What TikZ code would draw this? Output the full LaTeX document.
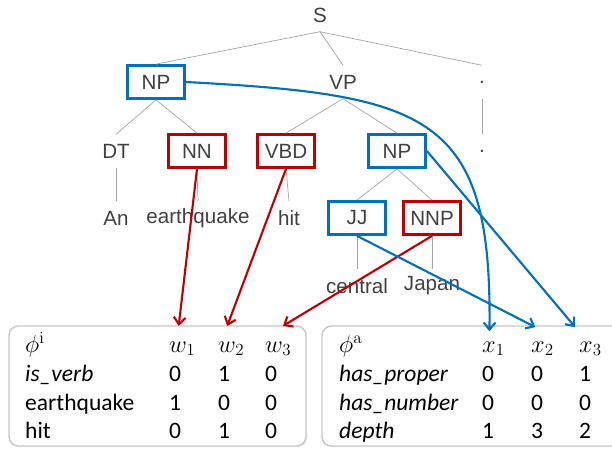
\documentclass[tikz,border=0pt]{standalone}
\usepackage[no-math]{fontspec}
\setmainfont{Carlito}
\newfontfamily\treefont{Liberation Sans}
\usetikzlibrary{arrows.meta,shadows}

\definecolor{tagred}{RGB}{192,0,0}
\definecolor{tagblue}{RGB}{0,112,192}
\definecolor{treegray}{RGB}{64,64,64}
\definecolor{edgegray}{RGB}{165,165,165}
\definecolor{panelgray}{RGB}{200,200,200}

\tikzset{
    tag/.style={minimum width=48.5pt, minimum height=28pt, inner sep=0pt,
        font=\treefont\fontsize{17.5}{20}\selectfont, text=treegray},
    redtag/.style={tag, draw=tagred, line width=2.4pt, fill=white,
        drop shadow={opacity=0.25, shadow xshift=1.2pt, shadow yshift=-1.2pt}},
    bluetag/.style={tag, draw=tagblue, line width=2.4pt, fill=white,
        drop shadow={opacity=0.25, shadow xshift=1.2pt, shadow yshift=-1.2pt}},
    branch/.style={draw=edgegray, line width=0.6pt},
    cell/.style={anchor=base west, inner sep=0pt, font=\fontsize{20}{24}\selectfont},
    panel/.style={draw=panelgray, line width=1.2pt, rounded corners=8pt, fill=white,
        drop shadow={opacity=0.15, shadow xshift=1pt, shadow yshift=-1pt}},
    redlink/.style={draw=tagred, line width=1.8pt, -{Straight Barb[length=6pt,width=10pt]}},
    bluelink/.style={draw=tagblue, line width=1.8pt, -{Straight Barb[length=6pt,width=10pt]}}
}

\begin{document}
\begin{tikzpicture}[x=0.85pt, y=-0.85pt]

    % Fix the frame of the picture
    \useasboundingbox (0,0) rectangle (612,448);

    % Parse tree: labels row by row
    \node[tag] (S) at (320,15) {S};

    \node[bluetag] (NPa) at (156,82) {NP};
    \node[tag] (VP) at (343,82) {VP};
    \node[tag] (dota) at (482,82) {.};

    \node[tag] (DT) at (116,151) {DT};
    \node[redtag] (NN) at (197,151) {NN};
    \node[redtag] (VBD) at (286,151) {VBD};
    \node[bluetag] (NPb) at (397,151) {NP};
    \node[tag] (dotb) at (482,151) {.};

    \node[tag] (An) at (116,218) {An};
    \node[tag] (earthquake) at (198,218) {earthquake};
    \node[tag] (hit) at (289,218) {hit};
    \node[bluetag] (JJ) at (357,218) {JJ};
    \node[redtag] (NNP) at (432,218) {NNP};

    \node[tag] (central) at (357,286) {central};
    \node[tag] (Japan) at (432,286) {Japan};

    % Tree branches
    \draw[branch] (S.south) -- (NPa.north);
    \draw[branch] (S.south) -- (VP.north);
    \draw[branch] (S.south) -- (dota.north);
    \draw[branch] (NPa.south) -- (DT.north);
    \draw[branch] (NPa.south) -- (NN.north);
    \draw[branch] (VP.south) -- (VBD.north);
    \draw[branch] (VP.south) -- (NPb.north);
    \draw[branch] (dota.south) -- (dotb.north);
    \draw[branch] (DT.south) -- (An.north);
    \draw[branch] (NN.south) -- (earthquake.north);
    \draw[branch] (VBD.south) -- (hit.north);
    \draw[branch] (NPb.south) -- (JJ.north);
    \draw[branch] (NPb.south) -- (NNP.north);
    \draw[branch] (JJ.south) -- (central.north);
    \draw[branch] (NNP.south) -- (Japan.north);

    % Feature panels
    \draw[panel] (9,326) rectangle (306,446);
    \draw[panel] (322,326) rectangle (630,446);

    % Left panel: lexical features
    \node[cell] (phii) at (25,352) {$\phi^{\mathrm{i}}$};
    \node[cell] (wa) at (169,352) {$w_1$};
    \node[cell] (wb) at (218,352) {$w_2$};
    \node[cell] (wc) at (265,352) {$w_3$};

    \node[cell] at (25,381) {\textit{is\_verb}};
    \node[cell] at (169,381) {0};
    \node[cell] at (218,381) {1};
    \node[cell] at (265,381) {0};

    \node[cell] at (25,410) {earthquake};
    \node[cell] at (169,410) {1};
    \node[cell] at (218,410) {0};
    \node[cell] at (265,410) {0};

    \node[cell] at (25,438) {hit};
    \node[cell] at (169,438) {0};
    \node[cell] at (218,438) {1};
    \node[cell] at (265,438) {0};

    % Right panel: structural features
    \node[cell] (phia) at (339,352) {$\phi^{\mathrm{a}}$};
    \node[cell] (xa) at (482,352) {$x_1$};
    \node[cell] (xb) at (531,352) {$x_2$};
    \node[cell] (xc) at (579,352) {$x_3$};

    \node[cell] at (339,381) {\textit{has\_proper}};
    \node[cell] at (482,381) {0};
    \node[cell] at (531,381) {0};
    \node[cell] at (579,381) {1};

    \node[cell] at (339,410) {\textit{has\_number}};
    \node[cell] at (482,410) {0};
    \node[cell] at (531,410) {0};
    \node[cell] at (579,410) {0};

    \node[cell] at (339,438) {\textit{depth}};
    \node[cell] at (482,438) {1};
    \node[cell] at (531,438) {3};
    \node[cell] at (579,438) {2};

    % Red links: word nodes to w columns
    \draw[redlink] (NN.south) -- ([xshift=-3pt,yshift=13pt]wa.north);
    \draw[redlink] (VBD.south) -- ([xshift=-3.4pt,yshift=13pt]wb.north);
    \draw[redlink] (NNP.south) -- ([xshift=4pt,yshift=13pt]wc.north);

    % Blue links: phrase nodes to x columns
    \draw[bluelink] (NPa.east) .. controls (430,95) and (492,115) .. ([xshift=-3.4pt,yshift=8.5pt]xa.north);
    \draw[bluelink] (JJ.south) -- ([xshift=-6pt,yshift=12pt]xb.north);
    \draw[bluelink] (NPb.east) -- ([xshift=-13pt,yshift=12pt]xc.north);

\end{tikzpicture}
\end{document}
